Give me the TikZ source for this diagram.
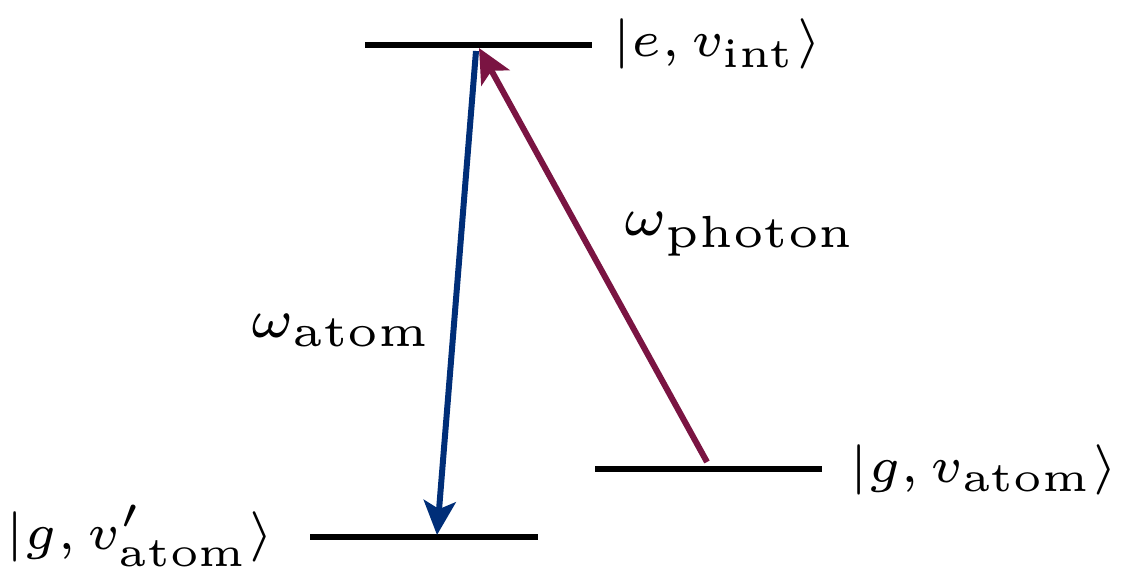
\documentclass[tikz,border=0pt]{standalone}
\usepackage{amsmath}
\usepackage{graphicx}
\usetikzlibrary{arrows.meta}
\definecolor{atomblue}{RGB}{0,46,120}
\definecolor{photonred}{RGB}{122,20,66}
\newcommand{\labelmath}[2][4.5]{\scalebox{#1}{\fontsize{6}{7}\selectfont$#2$}}
\tikzset{
    level/.style = {line width=3.3pt, black},
    transition/.style = {line width=3pt, -{Stealth[length=17pt,width=16pt,inset=4pt]}},
    statelabel/.style = {inner sep=0pt},
    ratelabel/.style = {inner sep=0pt, anchor=base west}
}
\begin{document}
\begin{tikzpicture}[x=0.5pt, y=-0.5pt]
\useasboundingbox (0,0) rectangle (1125,583);

% energy levels
\coordinate (eL) at (365,45);  \coordinate (eR) at (592,45);
\coordinate (gL) at (595,469); \coordinate (gR) at (822,469);
\coordinate (hL) at (310,537); \coordinate (hR) at (538,537);
\draw[level] (eL) -- (eR);
\draw[level] (gL) -- (gR);
\draw[level] (hL) -- (hR);

% state labels
\node[statelabel, anchor=west] (eLabel) at (612,44) {\labelmath[4.2]{|e, v_{\text{int}}\rangle}};
\node[statelabel, anchor=west] (gLabel) at (849,470) {\labelmath[4.2]{|g, v_{\text{atom}}\rangle}};
\node[statelabel, anchor=east] (hLabel) at (275,536) {\labelmath[4.2]{|g, v'_{\text{atom}}\rangle}};

% transitions
\coordinate (emitTop) at (476,51);
\coordinate (emitBot) at (437,535);
\coordinate (absBot) at (707,462);
\coordinate (absTop) at (479,48);
\draw[transition, atomblue] (emitTop) -- (emitBot);
\draw[transition, photonred] (absBot) -- (absTop);

\node[ratelabel] (wAtom) at (250,337) {\labelmath{\omega_{\text{atom}}}};
\node[ratelabel] (wPhoton) at (623,235) {\labelmath{\omega_{\text{photon}}}};
\end{tikzpicture}
\end{document}
